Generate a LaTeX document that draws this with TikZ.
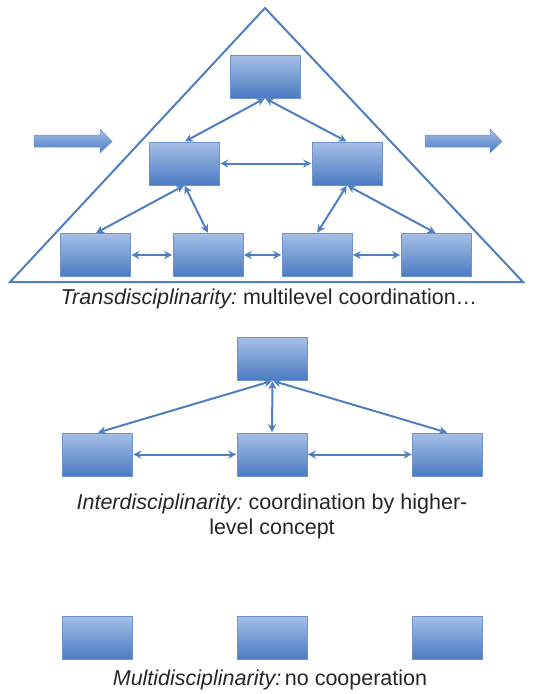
\documentclass[tikz,border=0pt]{standalone}
\usepackage{fontspec}
\setmainfont{Liberation Sans}
\usetikzlibrary{arrows.meta}
\definecolor{boxtop}{HTML}{A6BFE6}
\definecolor{boxbot}{HTML}{4A7BC2}
\definecolor{lineblue}{HTML}{4F7FBF}
\definecolor{boxedge}{HTML}{6F93CC}
\tikzset{
  box/.style={rectangle, minimum width=70pt, minimum height=43pt, inner sep=0pt,
    top color=boxtop, bottom color=boxbot, draw=boxedge, line width=0.6pt},
  link/.style={draw=lineblue, line width=2pt, {Stealth[length=8pt,width=8pt]}-{Stealth[length=8pt,width=8pt]}, shorten <=0.5pt, shorten >=0.5pt},
  caption/.style={font=\fontsize{21.5}{25}\selectfont, text=black!85, align=center, inner sep=0pt},
  blockarrow/.style={top color=boxtop, bottom color=boxbot, draw=boxedge, line width=0.5pt}
}
\begin{document}
\begin{tikzpicture}[x=1pt,y=-1pt]
\useasboundingbox (0,0) rectangle (536,694);
% triangle
\draw[lineblue, line width=2pt, line join=miter] (265,8) -- (523,282) -- (10,282) -- cycle;
% block arrows
\path[blockarrow] (34,135) -- (100,135) -- (100,129) -- (112,141.5) -- (100,153) -- (100,147) -- (34,147) -- cycle;
\path[blockarrow] (425,135) -- (490,135) -- (490,129) -- (502,141.5) -- (490,153) -- (490,147) -- (425,147) -- cycle;
% transdisciplinarity boxes
\node[box] (T) at (265,76.5) {};
\node[box] (ML) at (184.5,163.5) {};
\node[box] (MR) at (347,163.5) {};
\node[box] (B1) at (95.5,255) {};
\node[box] (B2) at (208,255) {};
\node[box] (B3) at (317,255) {};
\node[box] (B4) at (436,255) {};
\draw[link] (T.south) -- (ML.north);
\draw[link] (T.south) -- (MR.north);
\draw[link] (ML.east) -- (MR.west);
\draw[link] (ML.south) -- (B1.north);
\draw[link] (ML.south) -- (B2.north);
\draw[link] (MR.south) -- (B3.north);
\draw[link] (MR.south) -- (B4.north);
\draw[link] (B1.east) -- (B2.west);
\draw[link] (B2.east) -- (B3.west);
\draw[link] (B3.east) -- (B4.west);
\node[caption] (C1) at (269,299) {{\itshape Transdisciplinarity:}\kern-2pt{} multilevel coordination\ldots};
% interdisciplinarity
\node[box] (IT) at (272.5,359) {};
\node[box] (IL) at (97.5,454.5) {};
\node[box] (IM) at (272,454.5) {};
\node[box] (IR) at (447.5,454.5) {};
\draw[link] (IT.south) -- (IL.north);
\draw[link] (IT.south) -- (IM.north);
\draw[link] (IT.south) -- (IR.north);
\draw[link] (IL.east) -- (IM.west);
\draw[link] (IM.east) -- (IR.west);
\node[caption] (C2) at (272,516) {{\itshape Interdisciplinarity:}\kern-2pt{} coordination by higher-\\level concept};
% multidisciplinarity
\node[box] (UL) at (97.5,637.5) {};
\node[box] (UM) at (272,637.5) {};
\node[box] (UR) at (447.5,637.5) {};
\node[caption] (C3) at (270,680) {{\itshape Multidisciplinarity:}\,no cooperation};
\end{tikzpicture}
\end{document}
